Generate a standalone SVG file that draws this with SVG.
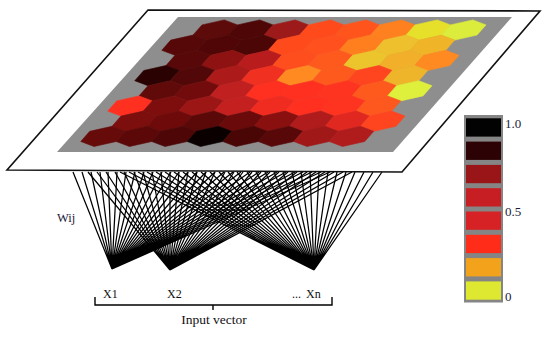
<svg xmlns="http://www.w3.org/2000/svg" xmlns:xlink="http://www.w3.org/1999/xlink" width="550" height="337" viewBox="0 0 550 337">
<style>
.lbl{font-family:"Liberation Serif","Times New Roman",serif;fill:#111;}
.nav{font-family:"Liberation Serif","Times New Roman",serif;fill:#1c1c3a;}
.fan{fill:none;stroke:#000;stroke-width:1.25;}
.brk{fill:none;stroke:#000;stroke-width:1.4;}
</style>
<defs>
<polygon id="hx" points="9,-10.1 22.25,-5.1 13.25,5.1 -9,10.1 -22.25,5.1 -13.25,-5.1" fill="currentColor" stroke="currentColor" stroke-width="0.6"/>
</defs>
<rect width="550" height="337" fill="#fff"/>
<g id="connectors">
<path class="fan" d="M73,172L112,269M82,172L112,269M91,172L112,269M100,172L112,269M108,172L112,269M117,172L112,269M126,172L112,269M135,172L112,269M144,172L112,269M153,172L112,269M162,172L112,269M171,172L112,269M179,172L112,269M188,172L112,269M197,172L112,269M206,172L112,269M215,172L112,269M224,172L112,269M233,172L112,269M241,172L112,269M250,172L112,269M259,172L112,269M268,172L112,269M277,172L112,269M286,172L112,269M295,172L112,269M303,172L112,269M312,172L112,269M321,172L112,269M330,172L112,269"/>
<path class="fan" d="M88,172L170,270M97,172L170,270M106,172L170,270M115,172L170,270M124,172L170,270M134,172L170,270M143,172L170,270M152,172L170,270M161,172L170,270M170,172L170,270M179,172L170,270M188,172L170,270M197,172L170,270M206,172L170,270M215,172L170,270M225,172L170,270M234,172L170,270M243,172L170,270M252,172L170,270M261,172L170,270M270,172L170,270M279,172L170,270M288,172L170,270M297,172L170,270M307,172L170,270M316,172L170,270M325,172L170,270M334,172L170,270M343,172L170,270M352,172L170,270"/>
<path class="fan" d="M120,172L314,270M129,172L314,270M138,172L314,270M147,172L314,270M156,172L314,270M165,172L314,270M174,172L314,270M183,172L314,270M192,172L314,270M201,172L314,270M210,172L314,270M219,172L314,270M228,172L314,270M237,172L314,270M247,172L314,270M256,172L314,270M265,172L314,270M274,172L314,270M283,172L314,270M292,172L314,270M301,172L314,270M310,172L314,270M319,172L314,270M328,172L314,270M337,172L314,270M346,172L314,270M355,172L314,270M364,172L314,270M373,172L314,270M382,172L314,270"/>
</g>
<g id="map">
<polygon points="148,10 540,11 402,172 7,170" fill="#fff" stroke="#111" stroke-width="1.6" stroke-linejoin="miter"/>
<polygon points="178,17 512,17 393,152 57,152" fill="#8e8e8e"/>
<g id="r0">
<use href="#hx" x="215.25" y="30" color="#5c0a0a"/><use href="#hx" x="250.75" y="30" color="#4e0606"/><use href="#hx" x="286.25" y="30" color="#9c1a1a"/><use href="#hx" x="321.75" y="30" color="#ff4a1c"/><use href="#hx" x="357.25" y="30" color="#ff541c"/><use href="#hx" x="392.75" y="30" color="#ff801e"/><use href="#hx" x="428.25" y="30" color="#e6e02a"/><use href="#hx" x="463.75" y="30" color="#dcec3c"/>
</g>
<g id="r1">
<use href="#hx" x="184" y="45.2" color="#560808"/><use href="#hx" x="219.5" y="45.2" color="#500606"/><use href="#hx" x="255" y="45.2" color="#4c0606"/><use href="#hx" x="290.5" y="45.2" color="#ff4a1c"/><use href="#hx" x="326" y="45.2" color="#ff501e"/><use href="#hx" x="361.5" y="45.2" color="#ff7e1e"/><use href="#hx" x="397" y="45.2" color="#eec02e"/><use href="#hx" x="432.5" y="45.2" color="#f0b428"/>
</g>
<g id="r2">
<use href="#hx" x="188.25" y="60.4" color="#580808"/><use href="#hx" x="223.75" y="60.4" color="#8e1212"/><use href="#hx" x="259.25" y="60.4" color="#b81c1c"/><use href="#hx" x="294.75" y="60.4" color="#ff4e1e"/><use href="#hx" x="330.25" y="60.4" color="#ff5a1e"/><use href="#hx" x="365.75" y="60.4" color="#ecc42c"/><use href="#hx" x="401.25" y="60.4" color="#f2b02a"/><use href="#hx" x="436.75" y="60.4" color="#ff8a22"/>
</g>
<g id="r3">
<use href="#hx" x="157" y="75.6" color="#2a0202"/><use href="#hx" x="192.5" y="75.6" color="#520808"/><use href="#hx" x="228" y="75.6" color="#ac1a1a"/><use href="#hx" x="263.5" y="75.6" color="#f03020"/><use href="#hx" x="299" y="75.6" color="#ff8a22"/><use href="#hx" x="334.5" y="75.6" color="#ff5a1e"/><use href="#hx" x="370" y="75.6" color="#ff4420"/><use href="#hx" x="405.5" y="75.6" color="#eeb42a"/>
</g>
<g id="r4">
<use href="#hx" x="161.25" y="90.8" color="#600a0a"/><use href="#hx" x="196.75" y="90.8" color="#720c0c"/><use href="#hx" x="232.25" y="90.8" color="#c02020"/><use href="#hx" x="267.75" y="90.8" color="#ff3020"/><use href="#hx" x="303.25" y="90.8" color="#ff3020"/><use href="#hx" x="338.75" y="90.8" color="#ff3420"/><use href="#hx" x="374.25" y="90.8" color="#ff5a1e"/><use href="#hx" x="409.75" y="90.8" color="#def03c"/>
</g>
<g id="r5">
<use href="#hx" x="130" y="106" color="#ff3020"/><use href="#hx" x="165.5" y="106" color="#7e0e0e"/><use href="#hx" x="201" y="106" color="#9c1616"/><use href="#hx" x="236.5" y="106" color="#c42020"/><use href="#hx" x="272" y="106" color="#f02c20"/><use href="#hx" x="307.5" y="106" color="#ff3020"/><use href="#hx" x="343" y="106" color="#ff3420"/><use href="#hx" x="378.5" y="106" color="#ff581e"/>
</g>
<g id="r6">
<use href="#hx" x="134.25" y="121.2" color="#7c0e0e"/><use href="#hx" x="169.75" y="121.2" color="#6e0a0a"/><use href="#hx" x="205.25" y="121.2" color="#5a0808"/><use href="#hx" x="240.75" y="121.2" color="#6a0a0a"/><use href="#hx" x="276.25" y="121.2" color="#8a1010"/><use href="#hx" x="311.75" y="121.2" color="#b01c1c"/><use href="#hx" x="347.25" y="121.2" color="#e02820"/><use href="#hx" x="382.75" y="121.2" color="#ff4420"/>
</g>
<g id="r7">
<use href="#hx" x="103" y="136.4" color="#660a0a"/><use href="#hx" x="138.5" y="136.4" color="#5c0808"/><use href="#hx" x="174" y="136.4" color="#4e0606"/><use href="#hx" x="209.5" y="136.4" color="#0a0000"/><use href="#hx" x="245" y="136.4" color="#4a0505"/><use href="#hx" x="280.5" y="136.4" color="#580808"/><use href="#hx" x="316" y="136.4" color="#a01818"/><use href="#hx" x="351.5" y="136.4" color="#b01c1c"/>
</g>
</g>
<g id="legend">
<rect x="464" y="115" width="39" height="187.5" fill="#858585"/>
<rect x="466" y="118.3" width="35" height="18.3" fill="#020202"/>
<rect x="466" y="141.6" width="35" height="18.3" fill="#2c0204"/>
<rect x="466" y="164.9" width="35" height="18.3" fill="#9a1518"/>
<rect x="466" y="188.2" width="35" height="18.3" fill="#c71e24"/>
<rect x="466" y="211.5" width="35" height="18.3" fill="#d62224"/>
<rect x="466" y="234.8" width="35" height="18.3" fill="#ff2c1a"/>
<rect x="466" y="258.1" width="35" height="18.3" fill="#f3a21c"/>
<rect x="466" y="281.4" width="35" height="18.3" fill="#dfe830"/>
<text class="nav" x="505" y="128" font-size="13">1.0</text>
<text class="nav" x="505" y="216" font-size="13">0.5</text>
<text class="nav" x="505" y="301" font-size="13">0</text>
</g>
<g id="w">
<text class="nav" x="57" y="222" font-size="12.5">Wij</text>
</g>
<g id="x1"><text class="lbl" x="103" y="298" font-size="12">X1</text></g>
<g id="x2"><text class="lbl" x="167" y="298" font-size="12">X2</text></g>
<g id="xn"><text class="lbl" x="292" y="298" font-size="12">...<tspan dx="5">Xn</tspan></text></g>
<g id="input">
<path class="brk" d="M95,297V305H332V297M213,305V310"/>
<text class="lbl" x="214" y="324" font-size="13.5" text-anchor="middle">Input vector</text>
</g>
</svg>
